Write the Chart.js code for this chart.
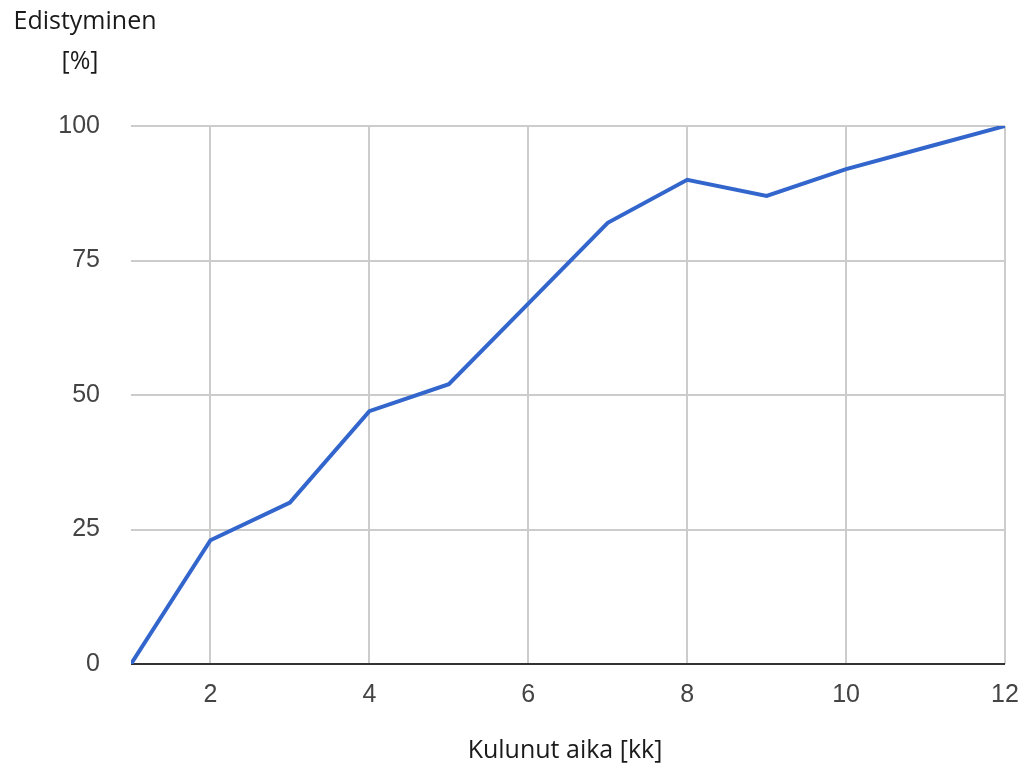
<!DOCTYPE html>
<html>
<head>
<meta charset="utf-8">
<script src="https://cdn.jsdelivr.net/npm/chart.js@4/dist/chart.umd.min.js"></script>
<style>
html,body{margin:0;padding:0;background:#fff;}
#wrap{width:1027px;height:769px;position:relative;}
</style>
</head>
<body>
<div id="wrap"><canvas id="c" width="1027" height="769"></canvas></div>
<script>
const months = [1, 2, 3, 4, 5, 6, 7, 8, 9, 10, 11, 12];
const progress = [0, 23, 30, 47, 52, 67, 82, 90, 87, 92, 96, 100];
const yTitleLines = ['Edistyminen', '[%]'];
const xTitle = 'Kulunut aika [kk]';

const titles = {
  id: 'titles',
  afterDraw(chart) {
    const ctx = chart.ctx;
    ctx.save();
    ctx.fillStyle = '#1a1a1a';
    ctx.font = '25px "Open Sans"';
    ctx.textAlign = 'center';
    ctx.textBaseline = 'middle';
    ctx.fillText(yTitleLines[0], 85, 22);
    ctx.fillText(yTitleLines[1], 80, 62);
    ctx.fillText(xTitle, 565, 751);
    ctx.restore();
  }
};

new Chart(document.getElementById('c'), {
  type: 'line',
  data: {
    datasets: [{
      data: months.map((m, i) => ({x: m, y: progress[i]})),
      borderColor: '#3366cc',
      borderWidth: 4,
      pointRadius: 0,
      tension: 0,
      fill: false
    }]
  },
  options: {
    responsive: false,
    animation: false,
    layout: {padding: {top: 126, right: 22, left: 0, bottom: 0}},
    plugins: {legend: {display: false}, tooltip: {enabled: false}},
    scales: {
      x: {
        type: 'linear',
        min: 1, max: 12,
        afterBuildTicks(scale) { scale.ticks = scale.ticks.filter(t => t.value !== 1); },
        afterFit(scale) { scale.height = 105; scale.paddingRight = 0; scale.paddingLeft = 0; },
        ticks: {stepSize: 2, color: '#444', font: {family: '"Liberation Sans", Arial', size: 25}, padding: 16, maxRotation: 0},
        grid: {color: '#cccccc', lineWidth: 2, drawTicks: false},
        border: {display: false}
      },
      y: {
        min: 0, max: 100,
        afterFit(scale) { scale.width = 131; scale.paddingTop = 0; scale.paddingBottom = 0; },
        ticks: {stepSize: 25, color: '#444', font: {family: '"Liberation Sans", Arial', size: 25}, padding: 31},
        grid: {
          color: c => c.tick && c.tick.value === 0 ? '#333333' : '#cccccc',
          lineWidth: 2, drawTicks: false
        },
        border: {display: false}
      }
    }
  },
  plugins: [titles]
});
</script>
</body>
</html>
